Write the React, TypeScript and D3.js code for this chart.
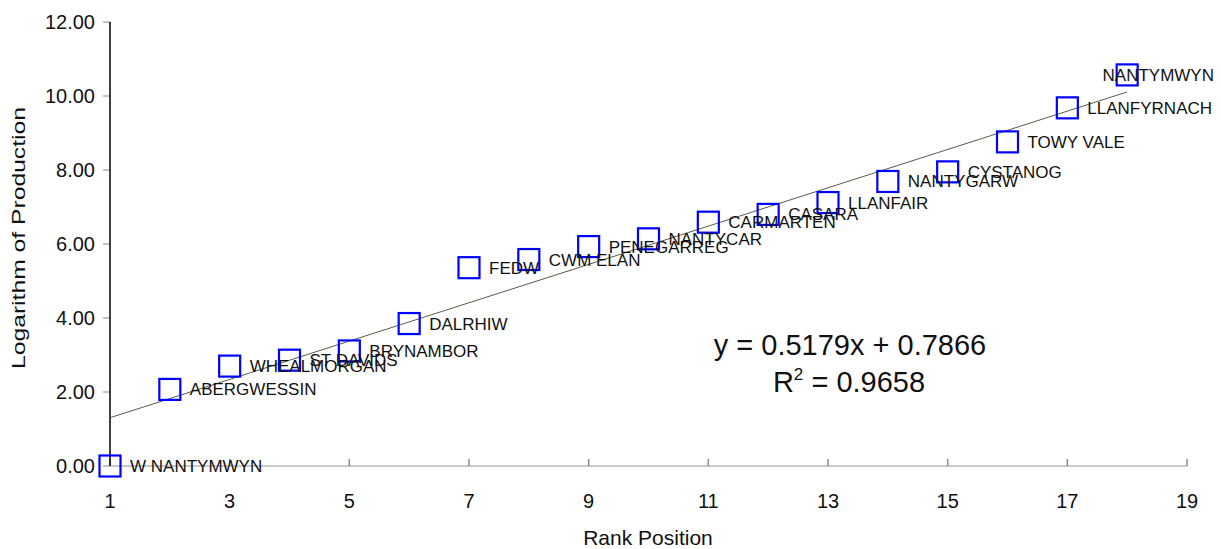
import React, {useEffect, useRef} from 'react';
import * as d3 from 'd3';

const ranks = [1, 2, 3, 4, 5, 6, 7, 8, 9, 10, 11, 12, 13, 14, 15, 16, 17, 18];
const mines = [
    'W NANTYMWYN', 'ABERGWESSIN', 'WHEALMORGAN', 'ST DAVIDS', 'BRYNAMBOR', 'DALRHIW',
    'FEDW', 'CWM ELAN', 'PENEGARREG', 'NANTYCAR', 'CARMARTEN', 'CASARA',
    'LLANFAIR', 'NANTYGARW', 'CYSTANOG', 'TOWY VALE', 'LLANFYRNACH', 'NANTYMWYN',
];
const logProduction = [0, 2.07, 2.7, 2.86, 3.11, 3.85, 5.36, 5.58, 5.93, 6.14, 6.59, 6.8, 7.12, 7.69, 7.95, 8.76, 9.68, 10.57];
const slope = 0.5179;
const intercept = 0.7866;
const rSquared = 0.9658;
const xTicks = [1, 3, 5, 7, 9, 11, 13, 15, 17, 19];
const yTicks = [0, 2, 4, 6, 8, 10, 12];

const FONT = '"Liberation Sans", Arial, sans-serif';

const App = () => {
    const svgRef = useRef(null);

    useEffect(() => {
        const svg = d3.select(svgRef.current);
        svg.selectAll('*').remove();

        const width = 1221;
        const left = 110;
        const right = 1187;
        const top = 22;
        const bottom = 466;
        const labelLimit = 1214;

        const x = d3.scaleLinear().domain([1, 19]).range([left, right]);
        const y = d3.scaleLinear().domain([0, 12]).range([bottom, top]);

        // x axis: light grey line, short ticks pointing up
        svg.append('line')
            .attr('x1', x(1)).attr('x2', x(19))
            .attr('y1', y(0)).attr('y2', y(0))
            .attr('stroke', '#b8b8b8').attr('stroke-width', 1.5);
        svg.selectAll('.xtick').data(xTicks).join('line')
            .attr('x1', (d) => x(d)).attr('x2', (d) => x(d))
            .attr('y1', y(0)).attr('y2', y(0) - 7)
            .attr('stroke', '#888').attr('stroke-width', 1.5);
        svg.selectAll('.xlab').data(xTicks).join('text')
            .attr('x', (d) => x(d)).attr('y', 508)
            .attr('text-anchor', 'middle')
            .attr('font-family', FONT).attr('font-size', 20).attr('fill', '#111')
            .text((d) => d);

        // y axis
        svg.selectAll('.ytick').data(yTicks).join('line')
            .attr('x1', left - 7).attr('x2', left)
            .attr('y1', (d) => y(d)).attr('y2', (d) => y(d))
            .attr('stroke', '#999').attr('stroke-width', 1.2);
        svg.append('line')
            .attr('x1', left).attr('x2', left)
            .attr('y1', y(12)).attr('y2', y(0))
            .attr('stroke', '#000').attr('stroke-width', 1.5);
        svg.selectAll('.ylab').data(yTicks).join('text')
            .attr('x', 95).attr('y', (d) => y(d) + 7)
            .attr('text-anchor', 'end')
            .attr('font-family', FONT).attr('font-size', 20).attr('fill', '#111')
            .text((d) => d3.format('.2f')(d));

        // axis titles
        svg.append('text')
            .attr('transform', `translate(25,${(107 + 369) / 2}) rotate(-90)`)
            .attr('text-anchor', 'middle')
            .attr('font-family', FONT).attr('font-size', 18).attr('fill', '#111')
            .attr('textLength', 262).attr('lengthAdjust', 'spacingAndGlyphs')
            .text('Logarithm of Production');
        svg.append('text')
            .attr('x', 648).attr('y', 545)
            .attr('text-anchor', 'middle')
            .attr('font-family', FONT).attr('font-size', 21).attr('fill', '#111')
            .text('Rank Position');

        // linear trend line
        const trend = d3.line()
            .x((d) => x(d))
            .y((d) => y(slope * d + intercept));
        svg.append('path')
            .datum([ranks[0], ranks[ranks.length - 1]])
            .attr('d', trend)
            .attr('fill', 'none')
            .attr('stroke', '#5a5a4a')
            .attr('stroke-width', 1);

        // markers
        const size = 21;
        svg.selectAll('.pt').data(ranks).join('rect')
            .attr('x', (d) => x(d) - size / 2)
            .attr('y', (d, i) => y(logProduction[i]) - size / 2)
            .attr('width', size).attr('height', size)
            .attr('fill', 'none')
            .attr('stroke', '#0000ff').attr('stroke-width', 2.2);

        // point labels, pushed left when they would run off the right edge
        svg.selectAll('.plab').data(ranks).join('text')
            .attr('font-family', FONT).attr('font-size', 17).attr('fill', '#111')
            .attr('y', (d, i) => y(logProduction[i]) + 6)
            .text((d, i) => mines[i])
            .attr('x', function (d) {
                const w = this.getComputedTextLength();
                return Math.min(x(d) + 20, labelLimit - w);
            });

        // regression equation
        const eq = svg.append('g')
            .attr('font-family', FONT).attr('font-size', 29).attr('fill', '#111')
            .attr('text-anchor', 'middle');
        eq.append('text')
            .attr('x', 850).attr('y', 355)
            .text(`y = ${slope}x + ${intercept}`);
        const r2 = eq.append('text').attr('x', 849).attr('y', 392);
        r2.append('tspan').text('R');
        r2.append('tspan').attr('font-size', 17).attr('dy', -12).text('2');
        r2.append('tspan').attr('dy', 12).text(` = ${rSquared}`);

        svg.attr('width', width);
    }, []);

    return (
        <svg
            ref={svgRef}
            width={1221}
            height={549}
            style={{position: 'absolute', left: 0, top: 0, background: '#fff'}}
        />
    );
};

export default App;
